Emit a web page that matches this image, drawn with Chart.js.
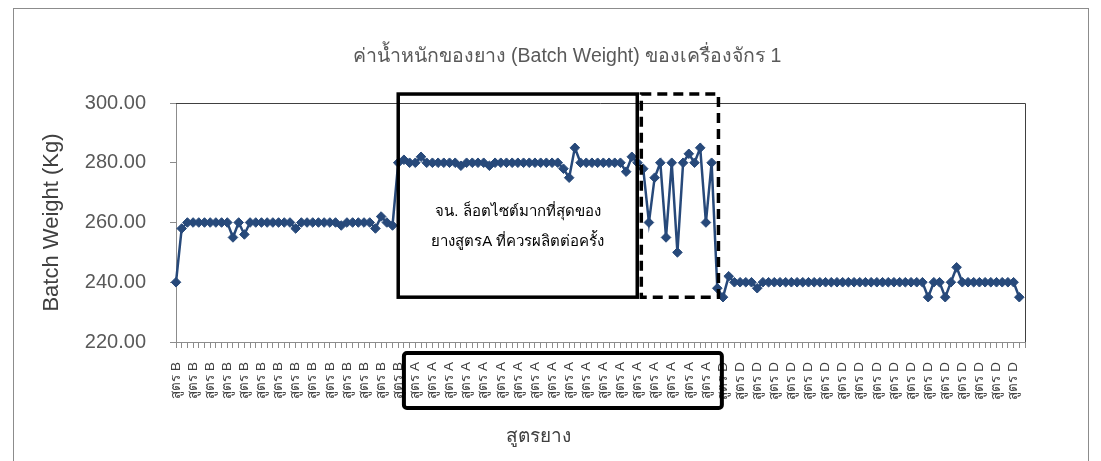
<!DOCTYPE html>
<html>
<head>
<meta charset="utf-8">
<script src="https://cdn.jsdelivr.net/npm/chart.js@4.4.0/dist/chart.umd.min.js"></script>
<style>
  html, body { margin: 0; padding: 0; background: #fff; overflow: hidden; }
  #frame { position: absolute; left: 13px; top: 8px; width: 1074px; height: 470px; border: 1px solid #8c8c8c; }
  #c { position: absolute; left: 0; top: 0; }
</style>
</head>
<body>
<div id="frame"></div>
<canvas id="c" width="1101" height="461"></canvas>
<script>
// Batch weight per produced batch, machine 1 (kg)
const chartTitle = 'ค่าน้ำหนักของยาง (Batch Weight) ของเครื่องจักร 1';
const xTitle = 'สูตรยาง';
const yTitle = 'Batch Weight (Kg)';
const noteLines = ['จน. ล็อตไซต์มากที่สุดของ', 'ยางสูตรA ที่ควรผลิตต่อครั้ง'];

// recipe of each batch, in production order: [recipe label, number of batches]
const recipeRuns = [['สูตร B', 41], ['สูตร A', 55], ['สูตร D', 54]];

// batch weights (kg) in production order
const weightsB = [240, 258, 260, 260, 260, 260, 260, 260, 260, 260, 255, 260, 256,
  260, 260, 260, 260, 260, 260, 260, 260, 258, 260, 260, 260, 260, 260, 260, 260,
  259, 260, 260, 260, 260, 260, 258, 262, 260, 259];
const weightsA = [280, 281, 280, 280, 282, 280, 280, 280, 280, 280, 280, 279,
  280, 280, 280, 280, 279, 280, 280, 280, 280, 280, 280, 280, 280, 280, 280, 280,
  280, 278, 275, 285, 280, 280, 280, 280, 280, 280, 280, 280, 277, 282, 280, 278,
  260, 275, 280, 255, 280, 250, 280, 283, 280, 285, 260, 280];
const weightsD = [238, 235, 242, 240, 240, 240, 240, 238, 240, 240, 240, 240,
  240, 240, 240, 240, 240, 240, 240, 240, 240, 240, 240, 240, 240, 240, 240, 240,
  240, 240, 240, 240, 240, 240, 240, 240, 240, 235, 240, 240, 235, 240, 245, 240,
  240, 240, 240, 240, 240, 240, 240, 240, 240, 235];
const yTicks = [220, 240, 260, 280, 300];

const batchWeight = [...weightsB, ...weightsA, ...weightsD];
const categories = [];
recipeRuns.forEach(([name, n]) => { for (let k = 0; k < n; k++) categories.push(name); });

const FONT = "'Liberation Sans', Arial, 'Noto Sans', sans-serif";
const LINE = '#27497a';

// highlighted ranges: category index span and weight span
const rangeBoxes = [
  { from: 39.0, to: 80.95, top: 303, bottom: 235, dash: [] },
  { from: 81.66, to: 95.2, top: 303, bottom: 235, dash: [10, 6] }
];
const labelBox = { from: 40.0, to: 95.8 };
const noteAnchor = { index: 60, weights: [263.5, 253.5] };

const decorations = {
  id: 'decorations',
  beforeDatasetsDraw(chart) {
    const { ctx, chartArea: a } = chart;
    ctx.save();
    ctx.strokeStyle = '#404040';
    ctx.lineWidth = 1;
    ctx.beginPath();
    ctx.moveTo(a.left, a.top + 0.5);
    ctx.lineTo(a.right + 0.5, a.top + 0.5);
    ctx.lineTo(a.right + 0.5, a.bottom);
    ctx.stroke();
    ctx.restore();
  },
  afterDatasetsDraw(chart) {
    const { ctx, chartArea: a, scales: { x, y } } = chart;
    ctx.save();
    ctx.strokeStyle = '#000';
    ctx.lineWidth = 3.5;
    rangeBoxes.forEach(b => {
      ctx.setLineDash(b.dash);
      const x0 = x.getPixelForValue(b.from), x1 = x.getPixelForValue(b.to);
      const y0 = y.getPixelForValue(b.top), y1 = y.getPixelForValue(b.bottom);
      ctx.strokeRect(x0, y0, x1 - x0, y1 - y0);
    });
    ctx.setLineDash([]);
    ctx.lineWidth = 4;
    const lx0 = x.getPixelForValue(labelBox.from), lx1 = x.getPixelForValue(labelBox.to);
    ctx.beginPath();
    ctx.roundRect(lx0, a.bottom + 11, lx1 - lx0, 55, 3);
    ctx.stroke();

    ctx.fillStyle = '#000';
    ctx.font = '15px ' + FONT;
    ctx.textAlign = 'center';
    ctx.textBaseline = 'middle';
    const nx = x.getPixelForValue(noteAnchor.index);
    noteLines.forEach((t, i) => ctx.fillText(t, nx, y.getPixelForValue(noteAnchor.weights[i])));
    ctx.restore();
  },
  afterDraw(chart) {
    const { ctx } = chart;
    ctx.save();
    ctx.textAlign = 'center';
    ctx.textBaseline = 'middle';
    ctx.fillStyle = '#595959';
    ctx.font = '19.5px ' + FONT;
    ctx.fillText(chartTitle, 567, 57);
    ctx.fillStyle = '#404040';
    ctx.font = '19px ' + FONT;
    ctx.fillText(xTitle, 538, 437);
    ctx.restore();
  }
};

new Chart(document.getElementById('c'), {
  type: 'line',
  data: {
    labels: categories,
    datasets: [{
      data: batchWeight,
      borderColor: LINE,
      backgroundColor: LINE,
      borderWidth: 2.5,
      pointStyle: 'rectRot',
      pointRadius: 4.8,
      pointBorderWidth: 1,
      tension: 0,
      fill: false
    }]
  },
  options: {
    responsive: false,
    animation: false,
    layout: { padding: { left: 30, right: 76, top: 103, bottom: 0 } },
    plugins: { legend: { display: false }, tooltip: { enabled: false } },
    scales: {
      x: {
        grid: { drawOnChartArea: false, drawTicks: true, tickLength: 6, color: '#8c8c8c' },
        border: { color: '#8c8c8c' },
        ticks: {
          autoSkip: false, maxRotation: 90, minRotation: 90, padding: 14,
          color: '#404040', font: { family: FONT, size: 13.5 },
          callback: (v, i) => (i % 3 === 0 ? categories[i] : '')
        },
        afterFit(s) { s.height = 119; }
      },
      y: {
        min: yTicks[0], max: yTicks[yTicks.length - 1],
        afterBuildTicks(s) { s.ticks = yTicks.map(v => ({ value: v })); },
        grid: { drawOnChartArea: false, drawTicks: true, tickLength: 6, color: '#8c8c8c' },
        border: { color: '#8c8c8c' },
        ticks: {
          padding: 24, color: '#595959', font: { family: FONT, size: 20 },
          callback: v => Number(v).toFixed(2)
        },
        title: {
          display: true, text: yTitle, color: '#404040',
          font: { family: FONT, size: 22 }, padding: { top: 9, bottom: 0 }
        },
        afterFit(s) { s.width = 146; }
      }
    }
  },
  plugins: [decorations]
});
</script>
</body>
</html>
